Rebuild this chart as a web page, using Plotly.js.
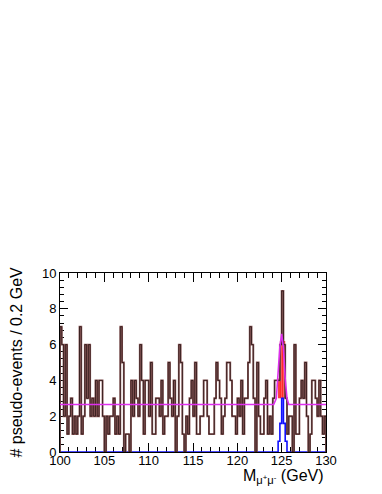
<!DOCTYPE html>
<html>
<head>
<meta charset="utf-8">
<script src="https://cdn.plot.ly/plotly-3.0.1.min.js"></script>
<style>
html,body{margin:0;padding:0;background:#fff;}
#chart{width:382px;height:494px;}
</style>
</head>
<body>
<div id="chart"></div>
<script>
// Histogram binning (GeV)
const xLow = 100;
const binW = 0.2;

// Pseudo-event counts per 0.2 GeV bin, 100.0 -> 130.0 GeV (150 bins)
const counts = [
  7, 6, 2, 6, 1, 2, 3, 1, 2, 1,   // 100.0 - 101.8
  2, 7, 1, 2, 6, 3, 6, 2, 3, 2,   // 102.0 - 103.8
  4, 2, 4, 4, 2, 0, 2, 1, 2, 2,   // 104.0 - 105.8
  3, 1, 2, 1, 7, 5, 0, 1, 1, 0,   // 106.0 - 107.8
  4, 2, 4, 3, 2, 6, 4, 1, 4, 4,   // 108.0 - 109.8
  2, 5, 1, 1, 3, 3, 2, 4, 1, 2,   // 110.0 - 111.8
  2, 5, 3, 2, 4, 0, 2, 6, 5, 1,   // 112.0 - 113.8
  0, 2, 1, 3, 4, 2, 5, 1, 1, 2,   // 114.0 - 115.8
  2, 4, 4, 2, 1, 1, 1, 3, 5, 4,   // 116.0 - 117.8
  3, 1, 2, 3, 5, 5, 4, 2, 2, 1,   // 118.0 - 119.8
  3, 2, 4, 1, 3, 3, 5, 7, 6, 3,   // 120.0 - 121.8
  0, 5, 2, 1, 1, 3, 4, 1, 2, 1,   // 122.0 - 123.8
  3, 4, 4, 4, 6, 9, 6, 3, 1, 2,   // 124.0 - 125.8
  2, 0, 6, 1, 1, 3, 4, 3, 5, 2,   // 126.0 - 127.8
  0, 1, 4, 4, 3, 2, 4, 2, 1, 2    // 128.0 - 129.8
];

// Signal-like (blue) histogram, lower bin edges and contents
const sigLow  = [124.6, 124.8, 125.0, 125.2, 125.4];
const sigVals = [0.6, 1.6, 3.0, 1.6, 0.6];

// Red band bins
const redLow  = [124.6, 124.8, 125.0, 125.2];
const redBase = [3, 3, 3, 3];
const redTop  = [4.1, 6.2, 6.2, 6.2];

// Gray bin
const grayLow  = [125.0];
const grayBase = [6.2];
const grayTop  = [9];

// Fitted curve (magenta)
const fitX = [100, 124.1, 124.4, 124.6, 124.8, 125.0, 125.2, 125.4, 125.6, 125.8, 130];
const fitY = [2.65, 2.65, 3.0, 4.3, 5.9, 6.6, 5.8, 4.1, 3.0, 2.65, 2.65];

// tick labels
const xTicks = [100, 105, 110, 115, 120, 125, 130];
const yTicks = [0, 2, 4, 6, 8, 10];

function stepXY(vals) {
  const x = [xLow], y = [0];
  for (let i = 0; i < vals.length; i++) { x.push(xLow + i * binW); y.push(vals[i]); }
  x.push(xLow + vals.length * binW); y.push(vals[vals.length - 1]);
  x.push(xLow + vals.length * binW); y.push(0);
  return {x, y};
}

// full blue histogram (zero outside signal bins)
const nBins = counts.length;
const blueFull = new Array(nBins).fill(0);
sigLow.forEach((lo, j) => { blueFull[Math.round((lo - xLow) / binW)] = sigVals[j]; });

const dataStep = stepXY(counts);
const blueStep = stepXY(blueFull);

const centers = arr => arr.map(v => v + binW / 2);
const diff = (a, b) => a.map((v, i) => v - b[i]);

const traces = [
  {type: 'bar', x: centers(redLow), y: diff(redTop, redBase), base: redBase, width: binW,
   marker: {color: '#ff2a2a', line: {width: 0}}, hoverinfo: 'skip'},
  {type: 'bar', x: centers(grayLow), y: diff(grayTop, grayBase), base: grayBase, width: binW,
   marker: {color: '#7f7f7f', line: {width: 0}}, hoverinfo: 'skip'},
  {type: 'scatter', mode: 'lines', x: blueStep.x, y: blueStep.y,
   line: {shape: 'hv', color: '#1010ff', width: 1.6}},
  {type: 'scatter', mode: 'lines', x: dataStep.x, y: dataStep.y,
   line: {shape: 'hv', color: '#8c5a5a', width: 1.9}},
  {type: 'scatter', mode: 'lines', x: dataStep.x, y: dataStep.y,
   line: {shape: 'hv', color: '#1a0a0a', width: 0.7}},
  {type: 'scatter', mode: 'lines', x: fitX, y: fitY,
   line: {color: '#dd30ee', width: 1.6}}
];

const font = 'Liberation Sans, Arial, Helvetica, sans-serif';

const layout = {
  width: 382, height: 494,
  margin: {l: 60, r: 56, t: 273, b: 42},
  paper_bgcolor: '#ffffff', plot_bgcolor: '#ffffff',
  showlegend: false,
  barmode: 'overlay',
  font: {family: font, size: 13, color: '#000'},
  xaxis: {
    range: [100, 130], tickvals: xTicks, ticktext: xTicks.map(String),
    ticks: 'inside', ticklen: 9, tickwidth: 1, tickcolor: '#000',
    showline: true, linecolor: '#000', linewidth: 1, mirror: 'ticks',
    showgrid: false, zeroline: false, layer: 'below traces',
    ticklabelstandoff: -4,
    minor: {dtick: 1, tick0: 100, ticks: 'inside', ticklen: 5, tickcolor: '#000', showgrid: false},
    tickfont: {family: font, size: 13, color: '#000'}
  },
  yaxis: {
    range: [0, 10], tickvals: yTicks, ticktext: yTicks.map(String),
    ticks: 'inside', ticklen: 8, tickwidth: 1, tickcolor: '#000',
    showline: true, linecolor: '#000', linewidth: 1, mirror: 'ticks',
    showgrid: false, zeroline: false, layer: 'below traces',
    minor: {dtick: 0.4, tick0: 0, ticks: 'inside', ticklen: 4, tickcolor: '#000', showgrid: false},
    tickfont: {family: font, size: 13, color: '#000'}
  },
  annotations: [
    {text: 'M<sub>μ<sup>+</sup>μ<sup>-</sup></sub> (GeV)', xref: 'paper', yref: 'paper',
     x: 1, y: -0.075, xanchor: 'right', yanchor: 'top', showarrow: false,
     font: {family: font, size: 16, color: '#000'}},
    {text: '# pseudo-events / 0.2 GeV', xref: 'paper', yref: 'paper',
     x: -0.165, y: 0.5, xanchor: 'center', yanchor: 'middle', textangle: -90, showarrow: false,
     font: {family: font, size: 16, color: '#000'}}
  ]
};

Plotly.newPlot('chart', traces, layout, {staticPlot: true, displayModeBar: false});
</script>
</body>
</html>
